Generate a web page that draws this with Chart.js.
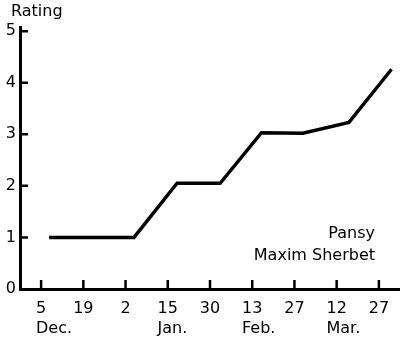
<!DOCTYPE html>
<html>
<head>
<meta charset="utf-8">
<script src="https://cdn.jsdelivr.net/npm/chart.js@4.4.1/dist/chart.umd.min.js"></script>
<style>
	html, body { margin:0; padding:0; background:#fff; }
	#wrap { width:400px; height:342px; position:relative; }
</style>
</head>
<body>
<div id="wrap"><canvas id="c"></canvas></div>
<script>
const xTickLabels = ['5', '19', '2', '15', '30', '13', '27', '12', '27'];
const monthNames = ['Dec.', 'Jan.', 'Feb.', 'Mar.'];
const monthFirstTick = [0, 3, 5, 7];
const yTicks = [0, 1, 2, 3, 4, 5];
// positions along the date axis, in tick units
const ratingPos = [0.19, 2.2, 3.22, 4.24, 5.22, 6.2, 7.29, 8.3];
const ratingVals = [1, 1, 2.05, 2.05, 3.03, 3.02, 3.23, 4.26];
const seriesName = ['Pansy', 'Maxim Sherbet'];
const yTitle = 'Rating';

const FONT = '"DejaVu Sans", sans-serif';
const FS = 16;

const decor = {
	id: 'decor',
	afterDraw(chart) {
		const ctx = chart.ctx, a = chart.chartArea;
		const xs = chart.scales.x, ys = chart.scales.y;
		ctx.save();
		ctx.strokeStyle = '#000';
		ctx.lineWidth = 2.5;
		ctx.beginPath();
		yTicks.forEach(v => {
			if (v === 0) return;
			const y = ys.getPixelForValue(v);
			ctx.moveTo(a.left, y); ctx.lineTo(a.left + 8, y);
		});
		xTickLabels.forEach((t, i) => {
			const x = xs.getPixelForValue(i);
			ctx.moveTo(x, a.bottom); ctx.lineTo(x, a.bottom - 9);
		});
		ctx.stroke();

		ctx.fillStyle = '#000';
		ctx.font = FS + 'px ' + FONT;
		ctx.textBaseline = 'alphabetic';
		ctx.textAlign = 'left';
		ctx.fillText(yTitle, 11, 16);
		monthNames.forEach((m, i) => {
			const ti = monthFirstTick[i];
			const w = ctx.measureText(xTickLabels[ti]).width;
			ctx.fillText(m, xs.getPixelForValue(ti) - w / 2, 333);
		});
		ctx.textAlign = 'right';
		ctx.fillText(seriesName[0], 375, 238);
		ctx.fillText(seriesName[1], 375, 260);
		ctx.restore();
	}
};

new Chart(document.getElementById('c'), {
	type: 'line',
	data: {
		datasets: [{
			data: ratingPos.map((x, i) => ({ x, y: ratingVals[i] })),
			borderColor: '#000',
			borderWidth: 3.4,
			pointRadius: 0,
			tension: 0,
			borderJoinStyle: 'miter',
			borderCapStyle: 'butt',
			fill: false
		}]
	},
	options: {
		responsive: true,
		maintainAspectRatio: false,
		animation: false,
		layout: { padding: { top: 27, right: 0, left: 0, bottom: 0 } },
		plugins: { legend: { display: false }, tooltip: { enabled: false } },
		scales: {
			x: {
				type: 'linear',
				min: -0.5, max: 8.5,
				afterBuildTicks: s => { s.ticks = xTickLabels.map((t, i) => ({ value: i })); },
				afterFit: s => { s.height = 53; },
				grid: { display: false, drawTicks: false },
				border: { display: true, color: '#000', width: 3 },
				ticks: {
					color: '#000', padding: 10, maxRotation: 0, autoSkip: false,
					font: { family: FONT, size: FS },
					callback: (v, i) => xTickLabels[i]
				}
			},
			y: {
				min: 0, max: 5.08,
				afterBuildTicks: s => { s.ticks = yTicks.map(v => ({ value: v })); },
				afterFit: s => { s.width = 20; },
				grid: { display: false, drawTicks: false },
				border: { display: true, color: '#000', width: 3 },
				ticks: {
					color: '#000', padding: 4,
					font: { family: FONT, size: FS },
					callback: v => String(v)
				}
			}
		}
	},
	plugins: [decor]
});
</script>
</body>
</html>
